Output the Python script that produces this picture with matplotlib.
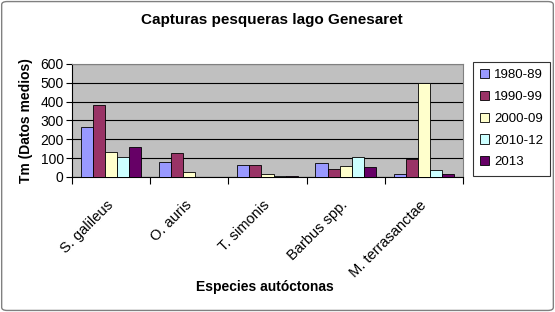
import matplotlib.pyplot as plt
import matplotlib.transforms as mtransforms
import numpy as np
from matplotlib.patches import FancyBboxPatch

plt.rcParams['font.family'] = ['Liberation Sans', 'DejaVu Sans']

especies = ['S. galileus', 'O. auris', 'T. simonis', 'Barbus spp.', 'M. terrasanctae']
periodos = ['1980-89', '1990-99', '2000-09', '2010-12', '2013']
v_1980 = [265, 78, 62, 74, 16]
v_1990 = [382, 127, 62, 41, 96]
v_2000 = [133, 27, 16, 58, 498]
v_2010 = [105, 0, 3, 106, 36]
v_2013 = [159, 0, 5, 52, 16]
series = [v_1980, v_1990, v_2000, v_2010, v_2013]
colores = ['#9999FF', '#993366', '#FFFFCC', '#CCFFFF', '#660066']

fig = plt.figure(figsize=(5.55, 3.12), dpi=100)
# marco exterior
fig.patches.append(FancyBboxPatch((0.003, 0.005), 0.994, 0.99, boxstyle='round,pad=0,rounding_size=0.01',
                                  transform=fig.transFigure, fill=False, edgecolor='#808080', lw=1))

ax = fig.add_axes([72 / 555, 1 - 177 / 312, (463 - 72) / 555, (177 - 64) / 312])
ax.set_facecolor('#C0C0C0')

x = np.arange(len(especies))
w = 0.155
for i, (vals, c) in enumerate(zip(series, colores)):
    ax.bar(x + (i - 2) * w, vals, w, color=c, edgecolor='black', linewidth=0.6,
           label=periodos[i], zorder=3)

ax.set_xlim(-0.5, len(especies) - 0.5)
ax.set_ylim(0, 600)
ax.set_yticks(range(0, 601, 100))
ax.yaxis.grid(True, color='black', linewidth=0.8, zorder=1)
ax.set_axisbelow(True)
ax.set_xticks(np.arange(-0.5, len(especies), 1.0))
ax.set_xticklabels([])
ax.set_xticks(x, minor=True)
ax.set_xticklabels(especies, minor=True, rotation=45, ha='right', rotation_mode='anchor', fontsize=10.5)
ax.tick_params(axis='x', which='minor', length=0, pad=15)
ax.tick_params(axis='x', which='major', length=5, direction='out')
ax.tick_params(axis='y', length=4, labelsize=10, pad=2)
# desplazar etiquetas un poco a la izquierda
offset = mtransforms.ScaledTranslation(-5 / 100, 0, fig.dpi_scale_trans)
for lab in ax.get_xticklabels(minor=True):
    lab.set_transform(lab.get_transform() + offset)
for s in ['top', 'right']:
    ax.spines[s].set_color('#808080')
for s in ['left', 'bottom']:
    ax.spines[s].set_color('black')

ax.set_ylabel('Tm (Datos medios)', fontsize=10, fontweight='bold', labelpad=5)
fig.text(265 / 555, 1 - 287 / 312, 'Especies autóctonas', ha='center', va='center',
         fontsize=10, fontweight='bold')
fig.text(272 / 555, 1 - 20 / 312, 'Capturas pesqueras lago Genesaret', ha='center', va='center',
         fontsize=11, fontweight='bold')

leg = fig.legend(loc='upper left', bbox_to_anchor=(473 / 555, 1 - 62 / 312), fontsize=9.5,
                 frameon=True, fancybox=False, edgecolor='black', handlelength=0.7,
                 handleheight=0.7, handletextpad=0.35, labelspacing=0.72, borderpad=0.55,
                 borderaxespad=0)
leg.get_frame().set_linewidth(0.8)

plt.savefig('out.png', dpi=100)
